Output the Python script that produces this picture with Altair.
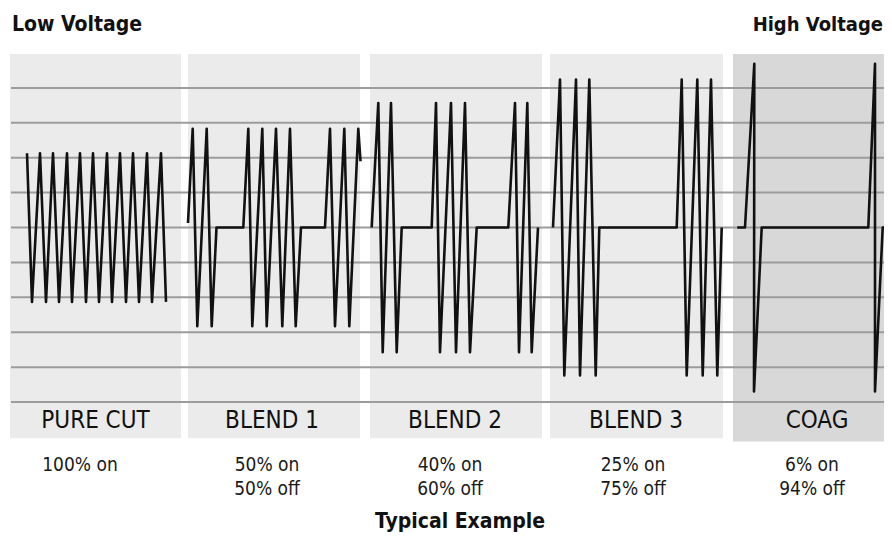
import altair as alt
import pandas as pd

# ---------------- data ----------------
panel_names = ["PURE CUT", "BLEND 1", "BLEND 2", "BLEND 3", "COAG"]
panel_t_start = [10, 188, 370, 550, 733]
panel_t_end = [181, 360, 542, 723, 902]
panel_v_top = [4.97, 4.97, 4.97, 4.97, 4.97]
panel_v_bottom = [-6.04, -6.04, -6.04, -6.04, -6.13]
panel_fill = ["#ebebeb", "#ebebeb", "#ebebeb", "#ebebeb", "#d8d8d8"]
label_t = [95.5, 272, 455, 636, 817]

duty_on = ["100% on", "50% on", "40% on", "25% on", "6% on"]
duty_off = ["", "50% off", "60% off", "75% off", "94% off"]
duty_t = [80, 267, 450, 633, 812]

grid_levels = [4, 3, 2, 1, 0, -1, -2, -3, -4, -5]
grid_t_start = 11
grid_t_end = 892

pure_cut_t = [27, 32, 40, 46, 53, 59, 67, 72, 80, 86, 93, 99, 107, 112, 120, 126, 133, 139, 147, 152, 161, 166]
pure_cut_v = [2.13, -2.13, 2.13, -2.13, 2.13, -2.13, 2.13, -2.13, 2.13, -2.13, 2.13,
              -2.13, 2.13, -2.13, 2.13, -2.13, 2.13, -2.13, 2.13, -2.13, 2.13, -2.13]

blend1_t = [188, 192.7, 197.3, 206.7, 211.7, 216.5, 243.3, 248.3, 252.3, 262.3, 266.7, 276,
            282.3, 290, 295.7, 301, 325, 330, 335, 344.3, 349.3, 358.3, 360.5]
blend1_v = [0.13, 2.83, -2.83, 2.83, -2.83, 0, 0, 2.83, -2.83, 2.83, -2.83, 2.83,
            -2.83, 2.83, -2.83, 0, 0, 2.83, -2.83, 2.83, -2.83, 2.83, 1.9]

blend2_t = [371.7, 378.3, 382.7, 391, 396.7, 401.7, 431.7, 436, 440, 451, 456, 465, 470,
            476.7, 508.3, 515, 519, 527.3, 531.7, 538]
blend2_v = [0, 3.57, -3.57, 3.57, -3.57, 0, 0, 3.57, -3.57, 3.57, -3.57, 3.57, -3.57,
            0, 0, 3.57, -3.57, 3.57, -3.57, 0]

blend3_t = [553, 560, 564.3, 576, 580, 589.3, 595.7, 599.3, 676.7, 681.7, 686.7, 697.3,
            702.7, 711, 717.3, 721.7]
blend3_v = [0, 4.24, -4.24, 4.24, -4.24, 4.24, -4.24, 0, 0, 4.24, -4.24, 4.24,
            -4.24, 4.24, -4.24, 0]

coag_t = [737.3, 745, 754.3, 754.0, 761.7, 868.3, 875, 875.0, 882.7, 892]
coag_v = [0, 0, 4.69, -4.70, 0, 0, 4.69, -4.70, 0, 0]

# ---------------- tables ----------------
panels = pd.DataFrame({
    "panel": panel_names, "t0": panel_t_start, "t1": panel_t_end,
    "v0": panel_v_top, "v1": panel_v_bottom, "fill": panel_fill,
    "lt": label_t, "lv": [-5.74] * 5,
})

grid = pd.DataFrame({"v": grid_levels, "t0": [grid_t_start] * len(grid_levels),
                     "t1": [grid_t_end] * len(grid_levels)})

rows = []
for name, ts, vs in [("PURE CUT", pure_cut_t, pure_cut_v), ("BLEND 1", blend1_t, blend1_v),
                     ("BLEND 2", blend2_t, blend2_v), ("BLEND 3", blend3_t, blend3_v),
                     ("COAG", coag_t, coag_v)]:
    for i, (t, v) in enumerate(zip(ts, vs)):
        rows.append({"panel": name, "i": i, "t": t, "v": v})
wave = pd.DataFrame(rows)

duty = pd.DataFrame({"t": duty_t, "on": duty_on, "off": duty_off,
                     "von": [-6.97] * 5, "voff": [-7.67] * 5})

titles = pd.DataFrame({
    "text": ["Low Voltage", "High Voltage", "Typical Example"],
    "t": [12, 883, 460], "v": [5.63, 5.63, -8.60],
    "align": ["left", "right", "center"],
    "size": [21, 20, 21],
})

FONT = "'DejaVu Sans Condensed', 'Liberation Sans Narrow', 'Arial Narrow', 'Roboto Condensed', sans-serif"

xs = alt.Scale(domain=[8, 884], nice=False, zero=False)
ys = alt.Scale(domain=[-8.81, 6.29], nice=False, zero=False)

bg = alt.Chart(panels).mark_rect().encode(
    x=alt.X("t0:Q", scale=xs, axis=None), x2="t1:Q",
    y=alt.Y("v0:Q", scale=ys, axis=None), y2="v1:Q",
    fill=alt.Fill("fill:N", scale=None),
)

rules = alt.Chart(grid).mark_rule(color="#9c9c9c", strokeWidth=2).encode(
    x=alt.X("t0:Q", scale=xs, axis=None), x2="t1:Q",
    y=alt.Y("v:Q", scale=ys, axis=None),
)

lines = alt.Chart(wave).mark_line(color="#111111", strokeWidth=2.6, strokeJoin="round").encode(
    x=alt.X("t:Q", scale=xs, axis=None),
    y=alt.Y("v:Q", scale=ys, axis=None),
    detail="panel:N", order="i:Q",
)

labels = alt.Chart(panels).mark_text(font=FONT, fontSize=24, color="#111111",
                                     align="center", baseline="alphabetic").encode(
    x=alt.X("lt:Q", scale=xs, axis=None), y=alt.Y("lv:Q", scale=ys, axis=None), text="panel:N",
)

on_text = alt.Chart(duty).mark_text(font=FONT, fontSize=19, color="#1a1a1a",
                                    align="center", baseline="alphabetic").encode(
    x=alt.X("t:Q", scale=xs, axis=None), y=alt.Y("von:Q", scale=ys, axis=None), text="on:N",
)
off_text = alt.Chart(duty).mark_text(font=FONT, fontSize=19, color="#1a1a1a",
                                     align="center", baseline="alphabetic").encode(
    x=alt.X("t:Q", scale=xs, axis=None), y=alt.Y("voff:Q", scale=ys, axis=None), text="off:N",
)


def title_layer(al):
    return alt.Chart(titles).transform_filter(alt.datum.align == al).mark_text(
        font=FONT, fontWeight="bold", color="#111111", align=al, baseline="alphabetic"
    ).encode(
        x=alt.X("t:Q", scale=xs, axis=None), y=alt.Y("v:Q", scale=ys, axis=None),
        text="text:N", size=alt.Size("size:Q", scale=None),
    )


chart = alt.layer(bg, rules, lines, labels, on_text, off_text,
                  title_layer("left"), title_layer("right"), title_layer("center")).properties(
    width=876, height=527, padding=0, autosize="none", background="white"
).configure_view(strokeWidth=0)

chart.save("out.html", embed_options={"renderer": "svg", "actions": False})
